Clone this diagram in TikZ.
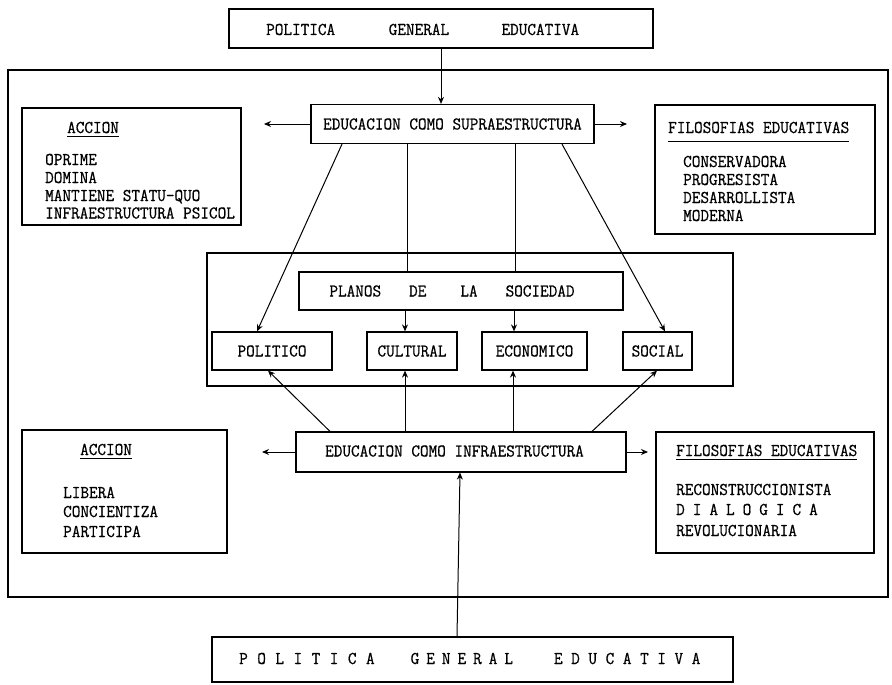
\documentclass[tikz,border=0pt]{standalone}
\usepackage{fontspec}
\newfontfamily\typew{Latin Modern Mono}[FakeStretch=0.93,FakeBold=0.6]
\usetikzlibrary{arrows.meta,calc}
\newcommand\lsp[1]{\hspace{#1pt}}
\begin{document}
\begin{tikzpicture}[x=1pt,y=-1pt,
  every node/.style={font=\typew\fontsize{18}{20}\selectfont, inner sep=0pt},
  box/.style={draw, line width=1.2pt, rectangle},
  ln/.style={line width=1pt},
  arr/.style={line width=1pt, -{Stealth[length=7pt,width=6pt]}},
  ul/.style={line width=1pt}]
\useasboundingbox (0,0) rectangle (892,685);
\fill[white] (0,0) rectangle (892,685);

% top
\node[box, minimum width=424, minimum height=39] (top) at (441,28.5) {};
\node[anchor=base west] (toptext) at (266,35) {POLITICA\lsp{53.6}GENERAL\lsp{52.4}EDUCATIVA};

% frame
\node[box, minimum width=880, minimum height=527] (frame) at (448,333.5) {};

% supra
\node[box, minimum width=283, minimum height=39] (supra) at (452.5,124) {EDUCACION COMO SUPRAESTRUCTURA};
\coordinate (sl) at (264,124);
\coordinate (sr) at (627,124);

% accion 1
\node[box, minimum width=219, minimum height=117] (acc1) at (131.5,166.5) {};
\node[anchor=base west] (acc1t) at (67,133) {ACCION};
\draw[ul] ($(acc1t.base west)+(0,3)$) -- ($(acc1t.base east)+(0,3)$);
\node[anchor=base west] (a11) at (45,165) {OPRIME};
\node[anchor=base west] (a12) at (45,183) {DOMINA};
\node[anchor=base west] (a13) at (45,201) {MANTIENE STATU-QUO};
\node[anchor=base west] (a14) at (45,218.5) {INFRAESTRUCTURA PSICOL};

% filosofias 1
\node[box, minimum width=220, minimum height=129] (fil1) at (765,169.5) {};
\node[anchor=base west] (fil1t) at (668,133) {FILOSOFIAS EDUCATIVAS};
\draw[ul] ($(fil1t.base west)+(0,8)$) -- ($(fil1t.base east)+(0,8)$);
\node[anchor=base west] (f11) at (683,167) {CONSERVADORA};
\node[anchor=base west] (f12) at (683,185) {PROGRESISTA};
\node[anchor=base west] (f13) at (683,203) {DESARROLLISTA};
\node[anchor=base west] (f14) at (683,221) {MODERNA};

% middle
\node[box, minimum width=526, minimum height=133] (mid) at (470,319.5) {};
\node[box, minimum width=324, minimum height=38] (planos) at (461,291) {};
\node (planost) at (452,291) {PLANOS\lsp{28}DE\lsp{34}LA\lsp{28}SOCIEDAD};
\node[box, minimum width=120, minimum height=38] (pol) at (272,351) {POLITICO};
\node[box, minimum width=90, minimum height=38] (cul) at (412,351) {CULTURAL};
\node[box, minimum width=105, minimum height=38] (eco) at (534.5,351) {ECONOMICO};
\node[box, minimum width=69, minimum height=38] (soc) at (657.5,351) {SOCIAL};

% infra
\node[box, minimum width=330, minimum height=40] (infra) at (461,452) {};
\node (infrat) at (454.5,451) {EDUCACION COMO INFRAESTRUCTURA};
\coordinate (il) at (262,452);
\coordinate (ir) at (648,452);

% accion 2
\node[box, minimum width=205, minimum height=123] (acc2) at (124.5,491.5) {};
\node[anchor=base west] (acc2t) at (80,455) {ACCION};
\draw[ul] ($(acc2t.base west)+(0,3)$) -- ($(acc2t.base east)+(0,3)$);
\node[anchor=base west] (a21) at (63,498) {LIBERA};
\node[anchor=base west] (a22) at (63,517) {CONCIENTIZA};
\node[anchor=base west] (a23) at (63,537) {PARTICIPA};

% filosofias 2
\node[box, minimum width=218, minimum height=121] (fil2) at (765,492.5) {};
\node[anchor=base west] (fil2t) at (676,456) {FILOSOFIAS EDUCATIVAS};
\draw[ul] ($(fil2t.base west)+(0,3)$) -- ($(fil2t.base east)+(0,3)$);
\node[anchor=base west] (f21) at (676,495) {RECONSTRUCCIONISTA};
\node[anchor=base west] (f22) at (676,515) {D\lsp{8}I\lsp{8}A\lsp{8}L\lsp{8}O\lsp{8}G\lsp{8}I\lsp{8}C\lsp{8}A};
\node[anchor=base west] (f23) at (676,536) {REVOLUCIONARIA};

% bottom
\node[box, minimum width=521, minimum height=45] (bot) at (472.5,659.5) {};
\node[anchor=base west] (bott) at (239,664) {P\lsp{9.5}O\lsp{9.5}L\lsp{9.5}I\lsp{9.5}T\lsp{9.5}I\lsp{9.5}C\lsp{9.5}A\lsp{36}G\lsp{7}E\lsp{7}N\lsp{7}E\lsp{7}R\lsp{7}A\lsp{7}L\lsp{41}E\lsp{8.6}D\lsp{8.6}U\lsp{8.6}C\lsp{8.6}A\lsp{8.6}T\lsp{8.6}I\lsp{8.6}V\lsp{8.6}A};

% connectors
\draw[arr] (top.south) -- (top.south |- supra.north);
\draw[arr] (supra.west) -- (sl);
\draw[arr] (supra.east) -- (sr);
\draw[arr] ($(supra.south)+(-110.5,0)$) -- ($(pol.north)+(-15,0)$);
\draw[ln] ($(supra.south)+(-45.5,0)$) -- ($(planos.north)+(-54,0)$);
\draw[ln] ($(supra.south)+(62.5,0)$) -- ($(planos.north)+(54,0)$);
\draw[arr] ($(supra.south)+(109.5,0)$) -- ($(soc.north)+(7.5,0)$);
\draw[arr] ($(planos.south)+(-56,0)$) -- ($(cul.north)+(-7,0)$);
\draw[arr] ($(planos.south)+(53,0)$) -- ($(eco.north)+(-20.5,0)$);
\draw[arr] ($(infra.north)+(-131,0)$) -- ($(pol.south)+(-4,0)$);
\draw[arr] ($(infra.north)+(-56,0)$) -- ($(cul.south)+(-7,0)$);
\draw[arr] ($(infra.north)+(52,0)$) -- ($(eco.south)+(-21.5,0)$);
\draw[arr] ($(infra.north)+(131,0)$) -- ($(soc.south)+(-0.5,0)$);
\draw[arr] (infra.west) -- (il);
\draw[arr] (infra.east) -- (ir);
\draw[arr] ($(bot.north)+(-15.5,0)$) -- ($(infra.south)+(-1,0)$);
\end{tikzpicture}
\end{document}
